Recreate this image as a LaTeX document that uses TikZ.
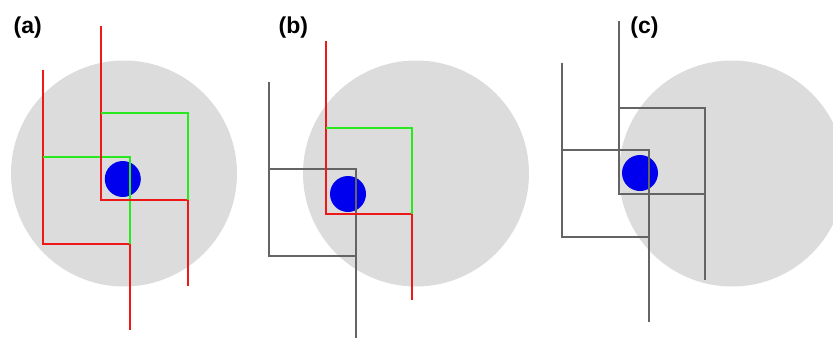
\documentclass[tikz,border=0pt]{standalone}
\usepackage{fontspec}
\setmainfont{Liberation Sans}
\definecolor{zonegray}{RGB}{220,220,220}
\definecolor{targetblue}{RGB}{0,0,238}
\definecolor{pathred}{RGB}{238,24,24}
\definecolor{pathgreen}{RGB}{40,232,30}
\definecolor{pathgray}{RGB}{100,100,100}
\begin{document}
\begin{tikzpicture}[x=1pt, y=-1pt,
    zone/.style={fill=zonegray},
    target/.style={fill=targetblue},
    walk/.style={line width=2pt},
    tag/.style={font=\bfseries\fontsize{23}{23}\selectfont, inner sep=0pt}]
    \useasboundingbox (0,0) rectangle (833,338);
    \clip (0,0) rectangle (833,338);
    % gray zones with the blue target in each
    \foreach \cx/\bx/\by in {124/122.8/179, 416/348/194, 732/640/173} {
        \fill[zone] (\cx,173.5) circle[radius=113];
        \fill[target] (\bx,\by) circle[radius=18];
    }
    % hooks: x / top / square top / bottom / hook colour / square colour
    \foreach \x/\t/\q/\b/\lc/\sc in {43/70/157/330/pathred/pathgreen,
                                     101/26/113/286/pathred/pathgreen,
                                     269.3/82/169.3/338/pathgray/pathgray,
                                     325.7/41/127.5/300/pathred/pathgreen,
                                     562/62.7/150/321.7/pathgray/pathgray,
                                     618.7/21/107.7/280/pathgray/pathgray} {
        \draw[walk, \lc] (\x,\t) -- (\x,\q+86.5) -- (\x+86.5,\q+86.5) -- (\x+86.5,\b);
        \draw[walk, \sc] (\x,\q) -- (\x+86.5,\q) -- (\x+86.5,\q+86.5);
    }
    \node[tag] (taga) at (27.7,28) {(a)};
    \node[tag] (tagb) at (293.3,28) {(b)};
    \node[tag] (tagc) at (644.5,28) {(c)};
\end{tikzpicture}
\end{document}
